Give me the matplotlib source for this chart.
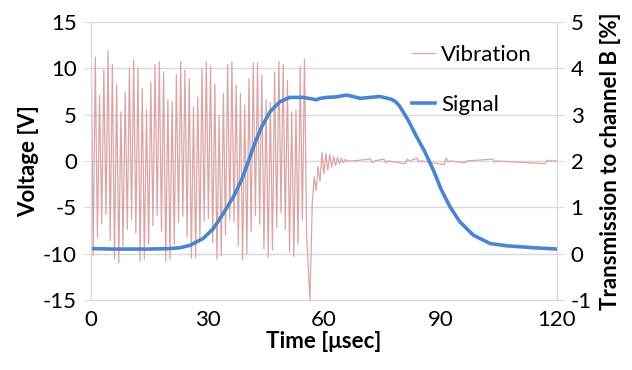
import numpy as np
import matplotlib
matplotlib.use('Agg')
import matplotlib.pyplot as plt

plt.rcParams['font.family'] = ['Lato', 'DejaVu Sans']
plt.rcParams['axes.unicode_minus'] = False   # plain hyphen like the original

# vibration: alternating peak / trough values (0 .. ~55 usec)
vib_step = 1.1
vib_peaks = [15, 11.2, 7.1, 9.8, 11.9, 10.4, 8.2, 5.3, 7.4, 10.0,
             10.9, 10.0, 7.8, 5.5, 8.5, 10.4, 10.7, 9.6, 6.6, 6.4,
             9.3, 10.7, 9.8, 8.9, 5.8, 6.9, 10.0, 10.7, 10.2, 8.3,
             4.9, 7.3, 10.4, 10.7, 8.2, 7.3, 6.0, 8.9, 10.6, 10.6,
             9.3, 6.6, 6.3, 9.6, 10.7, 10.4, 8.7, 5.3, 5.5, 10.2, 11.0]
vib_troughs = [-10.2, -8.3, -6.8, -5.8, -8.6, -10.6, -11.0, -9.2, -7.4, -6.3,
               -7.8, -10.8, -10.6, -9.0, -7.0, -5.9, -7.6, -10.8, -10.6, -9.0,
               -6.7, -6.0, -8.2, -10.5, -10.4, -8.6, -6.5, -6.2, -8.8, -10.6,
               -10.2, -8.0, -6.3, -6.6, -9.2, -10.7, -10.0, -7.6, -5.9, -6.8,
               -9.5, -10.4, -9.6, -7.2, -5.6, -7.4, -9.8, -10.3, -9.0, -6.4, -8.0]

# spike and ring-down afterwards
ring_t = [56.4, 57.0, 57.5, 58.0, 58.5, 59.0, 59.5, 60.0, 60.5, 61.0, 61.5,
          62.0, 62.5, 63.0, 63.5, 64.0, 64.5, 65.0, 65.5, 66.0, 67.5, 72, 72.5,
          73, 75.5, 76, 76.5, 81, 81.5, 82, 84, 84.5, 85, 91, 91.5, 92, 92.5,
          96.3, 96.8, 103.5, 104, 104.5, 117, 117.5, 118, 120]
ring_v = [-15, -4.6, -1.7, -3.2, -0.6, -2.2, 0.9, -1.4, 0.8, -1.0, 0.7,
          -0.7, 0.5, -0.5, 0.4, -0.3, 0.3, -0.2, 0.15, 0, 0, 0.2, -0.2,
          0, 0.2, -0.2, 0, -0.3, 0.2, 0, 0.3, -0.1, 0, -0.4, 0.3, -0.1, 0,
          -0.2, 0, 0.2, -0.1, 0, -0.3, 0.1, 0, 0]

# signal (right axis, %)
sig_t = [0, 5, 10, 15, 20.3, 23, 25.5, 28.9, 31.5, 34.1, 36.7, 38.8, 40.5,
         42.2, 44.0, 46.1, 48.7, 51.2, 54.7, 58.1, 59.0, 60.7, 63, 65.8, 67.5,
         69.3, 72, 74.4, 77.4, 78.6, 79.6, 81.7, 83.9, 86.0, 88.2, 90.3, 92.5,
         95.0, 98.5, 102.8, 107.1, 113.9, 120]
sig_v = [0.11, 0.10, 0.10, 0.10, 0.11, 0.13, 0.18, 0.33, 0.54, 0.87, 1.23, 1.59, 1.98,
         2.38, 2.74, 3.06, 3.28, 3.37, 3.37, 3.32, 3.35, 3.37, 3.38, 3.42, 3.39,
         3.35, 3.37, 3.39, 3.33, 3.27, 3.17, 2.88, 2.52, 2.2, 1.8, 1.37, 1.01,
         0.69, 0.40, 0.22, 0.17, 0.13, 0.10]

# interleave peaks and troughs on the sample grid
n = len(vib_peaks)
vib_t = np.empty(2 * n)
vib_v = np.empty(2 * n)
vib_t[0::2] = np.arange(n) * vib_step
vib_t[1::2] = np.arange(n) * vib_step + vib_step / 2
vib_v[0::2] = vib_peaks
vib_v[1::2] = vib_troughs
vib_t = np.concatenate([vib_t, ring_t])
vib_v = np.concatenate([vib_v, ring_v])

grid_c = '#d9d9d9'
fs = 16
fig = plt.figure(figsize=(6.32, 3.70), dpi=100)
ax = fig.add_axes([0.144, 0.189, 0.737, 0.752])
ax2 = ax.twinx()

l1, = ax.plot(vib_t, vib_v, color='#dba5a5', lw=0.9, label='Vibration')
l2, = ax2.plot(sig_t, sig_v, color='#4a86d0', lw=2.6, label='Signal',
               solid_joinstyle='round')

ax.set_xlim(0, 120)
ax.set_ylim(-15, 15)
ax2.set_ylim(-1, 5)
ax.set_xticks([0, 30, 60, 90, 120])
ax.set_yticks(range(-15, 16, 5))
ax2.set_yticks(range(-1, 6))
ax.grid(axis='y', color=grid_c, lw=1)
ax.set_axisbelow(True)

for a in (ax, ax2):
    for s in a.spines.values():
        s.set_color(grid_c)
    a.spines['top'].set_visible(False)
ax.tick_params(axis='y', colors=grid_c, labelcolor='black', labelsize=fs, length=5, pad=5)
ax2.tick_params(axis='y', colors=grid_c, labelcolor='black', labelsize=fs, length=5, pad=5)
ax.tick_params(axis='x', length=0, labelsize=fs, pad=7)

ax.set_xlabel('Time [μsec]', fontsize=fs, fontweight='bold', labelpad=1)
ax.set_ylabel('Voltage [V]', fontsize=fs, fontweight='bold', labelpad=3)
ax2.set_ylabel('Transmission to channel B [%]', fontsize=fs, fontweight='bold', labelpad=6)

ax2.legend(handles=[l1, l2], loc='upper right', bbox_to_anchor=(0.99, 0.99),
           frameon=False, fontsize=fs, handlelength=1.0, labelspacing=1.35,
           handletextpad=0.3)

fig.savefig('out.png', dpi=100)
